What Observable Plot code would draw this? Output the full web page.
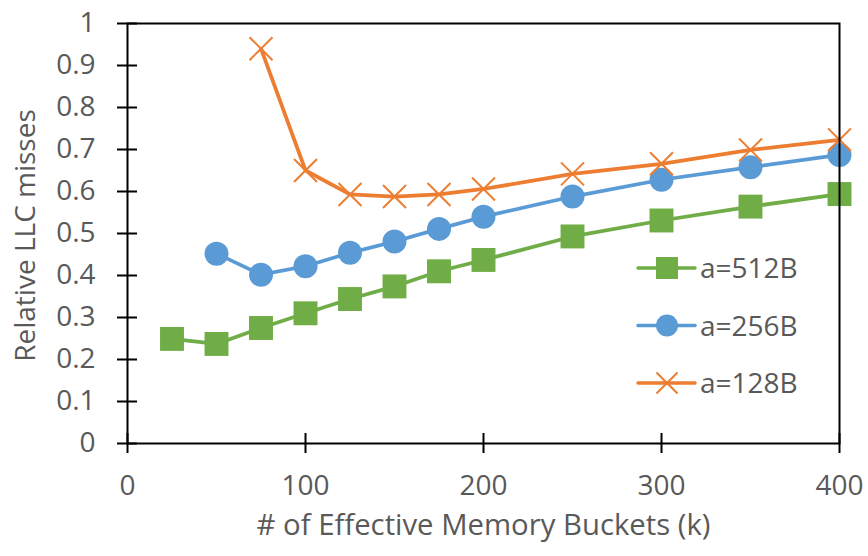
<!DOCTYPE html>
<html><head><meta charset="utf-8">
<script src="https://cdn.jsdelivr.net/npm/d3@7"></script>
<script src="https://cdn.jsdelivr.net/npm/@observablehq/plot@0.6"></script>
<style>body{margin:0;background:#fff;} #chart{width:868px;height:556px;}</style>
</head><body><div id="chart"></div>
<script>
// ---- data ----
const xValues = [25, 50, 75, 100, 125, 150, 175, 200, 250, 300, 350, 400];
const a512 = [0.249, 0.237, 0.275, 0.310, 0.344, 0.374, 0.410, 0.437, 0.493, 0.531, 0.564, 0.594];
const a256 = [null, 0.452, 0.402, 0.422, 0.454, 0.481, 0.511, 0.540, 0.588, 0.628, 0.658, 0.687];
const a128 = [null, null, 0.940, 0.650, 0.593, 0.588, 0.593, 0.606, 0.642, 0.666, 0.699, 0.723];
const seriesNames = ["a=512B", "a=256B", "a=128B"];
const xTicks = [0, 100, 200, 300, 400];
const yTicks = [0, 0.1, 0.2, 0.3, 0.4, 0.5, 0.6, 0.7, 0.8, 0.9, 1];
const xTitle = "# of Effective Memory Buckets (k)";
const yTitle = "Relative LLC misses";

const colors = {"a=512B": "#70AD47", "a=256B": "#5B9BD5", "a=128B": "#ED7D31"};
const toRows = (vals, name) => xValues.map((x, i) => ({x, y: vals[i], s: name})).filter(d => d.y != null);
const r512 = toRows(a512, seriesNames[0]);
const r256 = toRows(a256, seriesNames[1]);
const r128 = toRows(a128, seriesNames[2]);
const textColor = "#595959";
const fs = 28;
const font = "'Open Sans', Lato, sans-serif";

const chart = Plot.plot({
  width: 868, height: 556,
  marginLeft: 127, marginRight: 29, marginTop: 23, marginBottom: 113,
  style: {fontFamily: font, fontSize: fs + "px", background: "white", color: textColor},
  x: {domain: [0, 400], label: null},
  y: {domain: [0, 1], label: null},
  marks: [
    Plot.line(r512, {x: "x", y: "y", stroke: colors["a=512B"], strokeWidth: 3.75}),
    Plot.line(r256, {x: "x", y: "y", stroke: colors["a=256B"], strokeWidth: 3.75}),
    Plot.line(r128, {x: "x", y: "y", stroke: colors["a=128B"], strokeWidth: 3.75}),
    Plot.dot(r512, {x: "x", y: "y", symbol: "square", r: 13.5, fill: colors["a=512B"], stroke: null}),
    Plot.dot(r256, {x: "x", y: "y", symbol: "circle", r: 12, fill: colors["a=256B"], stroke: null}),
    Plot.dot(r128, {x: "x", y: "y", symbol: "times", r: 10.5, stroke: colors["a=128B"], strokeWidth: 2, fill: "none"}),
    // cross ticks (no labels)
    Plot.axisY(yTicks, {anchor: "left", tickSize: 20, dx: 10, strokeWidth: 2, stroke: "black", tickFormat: () => "", label: null}),
    Plot.axisX(xTicks, {anchor: "bottom", tickSize: 20, dy: -10, strokeWidth: 2, stroke: "black", tickFormat: () => "", label: null}),
    // tick labels
    Plot.axisY(yTicks, {anchor: "left", tickSize: 0, tickPadding: 32, fontSize: fs, fill: textColor, label: null,
      tickFormat: d => String(+d.toFixed(1))}),
    Plot.axisX(xTicks, {anchor: "bottom", tickSize: 0, tickPadding: 32, fontSize: fs, fill: textColor, label: null}),
    Plot.frame({stroke: "black", strokeWidth: 2}),
    Plot.text([yTitle], {frameAnchor: "left", textAnchor: "middle", rotate: -90, dx: -101, dy: 2, fontSize: fs, fill: textColor}),
    Plot.text([xTitle], {frameAnchor: "bottom", textAnchor: "middle", dy: 82, fontSize: 29.3, fill: textColor, lineAnchor: "middle"})
  ]
});
document.getElementById("chart").appendChild(chart);

// ---- legend (inside the plot, right side) ----
const svg = d3.select(chart);
const legendOrder = ["a=512B", "a=256B", "a=128B"];
const lg = svg.append("g").attr("transform", "translate(638,268)");
legendOrder.forEach((name, i) => {
  const g = lg.append("g").attr("transform", `translate(0,${i * 57.5})`);
  const c = colors[name];
  g.append("line").attr("x1", 0).attr("x2", 57).attr("y1", 0).attr("y2", 0)
    .attr("stroke", c).attr("stroke-width", 3.5).attr("stroke-linecap", "round");
  if (name === "a=512B") {
    g.append("rect").attr("x", 29 - 11).attr("y", -11).attr("width", 22).attr("height", 22).attr("fill", c);
  } else if (name === "a=256B") {
    g.append("circle").attr("cx", 29).attr("cy", 0).attr("r", 11).attr("fill", c);
  } else {
    const h = 10.5;
    g.append("path").attr("d", `M${29 - h},${-h}L${29 + h},${h}M${29 - h},${h}L${29 + h},${-h}`)
      .attr("stroke", c).attr("stroke-width", 2).attr("fill", "none");
  }
  g.append("text").attr("x", 62).attr("y", 0).attr("dy", "0.36em").attr("text-anchor", "start")
    .attr("fill", textColor).attr("font-size", fs).attr("font-family", font).text(name);
});
</script>
</body></html>
